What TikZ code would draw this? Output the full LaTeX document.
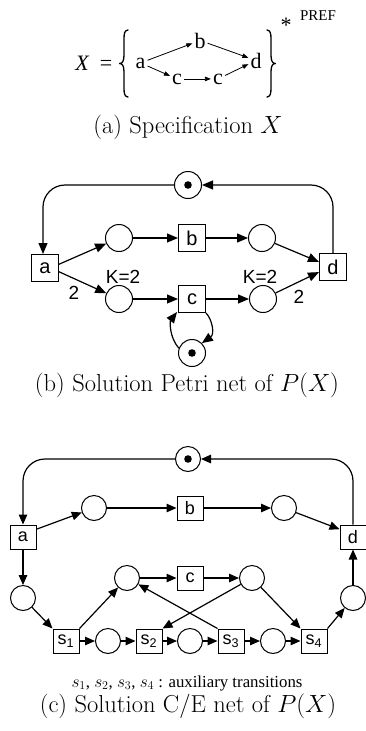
\documentclass[tikz,border=0pt]{standalone}
\usepackage{fontspec}
\newfontfamily\helv{Liberation Sans}
\newfontfamily\tms{Liberation Serif}
\usetikzlibrary{arrows.meta}
\begin{document}
\begin{tikzpicture}[x=1pt,y=-1pt,
  tr/.style={draw, line width=1pt, minimum size=27pt, inner sep=0pt, font=\helv\fontsize{20}{20}\selectfont},
  pl/.style={draw, circle, line width=1pt, minimum size=27pt, inner sep=0pt},
  trc/.style={draw, line width=1pt, minimum width=26pt, minimum height=24pt, inner sep=0pt, font=\helv\fontsize{18}{18}\selectfont},
  plc/.style={draw, circle, line width=1pt, minimum size=25pt, inner sep=0pt},
  tok/.style={path picture={\fill (path picture bounding box.center) circle (3.8pt);}},
  arr/.style={line width=1.2pt, -{Triangle[length=11pt,width=9pt]}},
  arrc/.style={line width=1.2pt, -{Triangle[length=10pt,width=8.5pt]}},
  sarr/.style={line width=0.8pt, -{Triangle[length=6pt,width=4.5pt]}, shorten <=1pt, shorten >=1pt},
  lbl/.style={font=\helv\fontsize{19}{19}\selectfont, inner sep=0pt},
  ser/.style={font=\tms\fontsize{22}{22}\selectfont, inner sep=1pt, anchor=base},
  brc/.style={line width=1.3pt, line cap=round, line join=round},
  captxt/.style={font=\fontsize{24.5}{24.5}\selectfont, inner sep=0pt}]
\useasboundingbox (0,0) rectangle (365,731);
% ---------- (a) ----------
\node[ser] (tX) at (82,70) {\itshape X};
\node[ser] (teq) at (106,70) {=};
\draw[brc] (128,30) .. controls (124.5,30.5) and (124,33) .. (124,40) -- (124,55)
  .. controls (124,61) and (122.5,63.5) .. (119.5,63.5)
  .. controls (122.5,63.5) and (124,66) .. (124,72) -- (124,87)
  .. controls (124,94) and (124.5,96.5) .. (128,97);
\draw[brc] (267,30) .. controls (270.5,30.5) and (271,33) .. (271,40) -- (271,55)
  .. controls (271,61) and (272.5,63.5) .. (275.5,63.5)
  .. controls (272.5,63.5) and (271,66) .. (271,72) -- (271,87)
  .. controls (271,94) and (270.5,96.5) .. (267,97);
\node[ser] (ta) at (140.5,68) {a};
\node[ser] (tb) at (200,48) {b};
\node[ser] (td) at (256,68) {d};
\node[ser] (tc1) at (177,84) {c};
\node[ser] (tc2) at (218,84) {c};
\node[ser] (tst) at (286,32) {*};
\node[font=\tms\fontsize{15}{15}\selectfont, inner sep=0pt, anchor=base] (tpref) at (318,20) {PREF};
\draw[sarr] (ta) -- (tb);
\draw[sarr] (tb) -- (td);
\draw[sarr] (ta) -- (tc1);
\draw[sarr] (tc1) -- (tc2);
\draw[sarr] (tc2) -- (td);
\node[captxt] (capa) at (188,127) {(a) Specification $X$};
% ---------- (b) ----------
\node[pl,tok] (P0) at (188,185) {};
\node[tr] (a) at (45,268) {a};
\node[tr] (d) at (333,267) {d};
\node[pl] (p1) at (119,238) {};
\node[tr] (b) at (192,238) {b};
\node[pl] (p2) at (262,238) {};
\node[pl] (p3) at (119,299) {};
\node[tr] (c) at (192,299) {c};
\node[pl] (p4) at (263,299) {};
\node[pl,tok] (p5) at (192,353) {};
\draw[arr, rounded corners=22pt] (P0.west) -| ([xshift=-2pt]a.north);
\draw[arr, rounded corners=22pt] (d.north) |- (P0.east);
\draw[arr] (a.15) -- (p1);
\draw[arr] (p1) -- (b);
\draw[arr] (b) -- (p2);
\draw[arr] (p2) -- (d.160);
\draw[arr] (a.-15) -- (p3);
\draw[arr] (p3) -- (c);
\draw[arr] (c) -- (p4);
\draw[arr] (p4) -- (d.-160);
\draw[arr] (p5.160) .. controls (169,337) and (170,321) .. ([xshift=-1pt,yshift=1pt]c.south west);
\draw[arr] (c.south east) .. controls (212,319) and (215,334) .. (p5.45);
\node[lbl] (k1) at (123,277) {K=2};
\node[lbl] (k2) at (260,277) {K=2};
\node[lbl] (w1) at (74,293) {2};
\node[lbl] (w2) at (299,297) {2};
\node[captxt] (capb) at (187,385) {(b) Solution Petri net of $P(X)$};
% ---------- (c) ----------
\node[plc,tok] (Q0) at (188,459) {};
\node[trc] (a2) at (23,537) {a};
\node[trc] (d2) at (353,537) {d};
\node[plc] (q1) at (94,508) {};
\node[trc] (b2) at (190,508) {b};
\node[plc] (q2) at (284,508) {};
\node[plc] (q3) at (127,578) {};
\node[trc] (c2) at (190,578) {c};
\node[plc] (q4) at (252,578) {};
\node[plc] (q5) at (23,598) {};
\node[plc] (q6) at (353,598) {};
\node[trc] (s1) at (66,641) {s\textsubscript{1}};
\node[plc] (q7) at (108,641) {};
\node[trc] (s2) at (149,641) {s\textsubscript{2}};
\node[plc] (q8) at (190,641) {};
\node[trc] (s3) at (231,641) {s\textsubscript{3}};
\node[plc] (q9) at (273,641) {};
\node[trc] (s4) at (314,641) {s\textsubscript{4}};
\draw[arrc, rounded corners=22pt] (Q0.west) -| (a2.north);
\draw[arrc, rounded corners=22pt] (d2.north) |- (Q0.east);
\draw[arrc] (a2.30) -- (q1);
\draw[arrc] (q1) -- (b2);
\draw[arrc] (b2) -- (q2);
\draw[arrc] (q2) -- (d2.150);
\draw[arrc] (a2) -- (q5);
\draw[arrc] (q5) -- (s1.north west);
\draw[arrc] (s1) -- (q7);
\draw[arrc] (q7) -- (s2);
\draw[arrc] (s2) -- (q8);
\draw[arrc] (q8) -- (s3);
\draw[arrc] (s3) -- (q9);
\draw[arrc] (q9) -- (s4);
\draw[arrc] (s1.north east) -- (q3);
\draw[arrc] (q3) -- (c2);
\draw[arrc] (c2) -- (q4);
\draw[arrc] (q4) -- (s2.north east);
\draw[arrc] (s3.north west) -- (q3);
\draw[arrc] (q4) -- (s4.north west);
\draw[arrc] (s4.north east) -- (q6);
\draw[arrc] (q6) -- (d2);
\node[font=\tms\fontsize{16.8}{16.8}\selectfont, inner sep=0pt] (aux) at (187,683) {$s_1$, $s_2$, $s_3$, $s_4$ : auxiliary transitions};
\node[captxt] (capc) at (188,706) {(c) Solution C/E net of $P(X)$};
\end{tikzpicture}
\end{document}
